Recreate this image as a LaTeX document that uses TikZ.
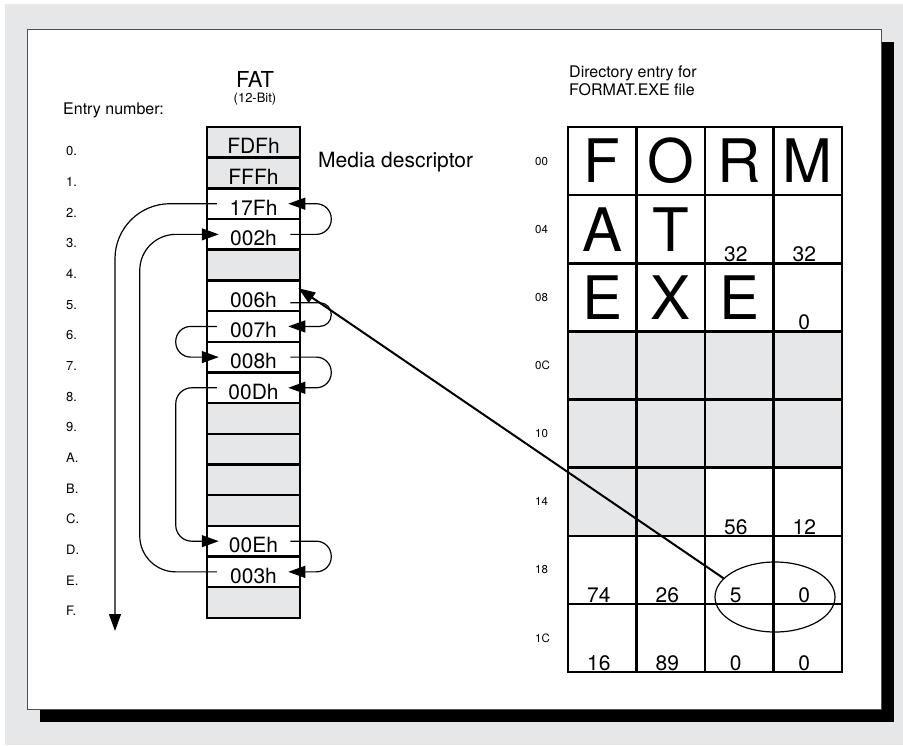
\documentclass[tikz,border=0pt]{standalone}
\usepackage{fontspec}
\setmainfont{TeX Gyre Heros}
\usetikzlibrary{arrows.meta,shapes.geometric}
\definecolor{fondo}{RGB}{230,231,232}
\definecolor{marco}{RGB}{80,80,80}
\newcommand{\fsz}[1]{\fontsize{#1}{#1}\selectfont}

\begin{document}
\begin{tikzpicture}[x=1pt, y=-1pt,
    celda/.style={draw, line width=2.5pt, minimum width=93pt, minimum height=30.68pt,
        inner sep=0pt, text height=22.6pt, text depth=0pt, font=\fsz{21}},
    gris/.style={celda, fill=fondo},
    casilla/.style={draw, line width=2.5pt, minimum width=68.5pt, minimum height=68.125pt, inner sep=0pt},
    letra/.style={inner sep=0pt, font=\fsz{60}},
    numero/.style={anchor=base, inner sep=0pt, font=\fsz{21}},
    rotulo/.style={anchor=base west, inner sep=0pt, font=\fsz{13}},
    flecha/.style={-{Triangle[length=17pt,width=12pt]}, line width=1.2pt}]
    \useasboundingbox (0,0) rectangle (903,745);

    % Fondo, sombra y hoja
    \fill[fondo] (5,4) rectangle (903,745);
    \fill[black] (40,42) rectangle (894,722);
    \draw[marco, fill=white, line width=1pt] (27,29) rectangle (881,709);

    % Titulos de la FAT
    \node[anchor=base, font=\fsz{22}] (fat) at (255,87) {FAT};
    \node[anchor=base, font=\fsz{13}] (bits) at (255,102) {(12-Bit)};
    \node[rotulo, font=\fsz{16}] (entrada) at (63,114.5) {Entry number:};
    \foreach \t [count=\i from 0] in {0,1,2,3,4,5,6,7,8,9,A,B,C,D,E,F}
        \node[rotulo] (e\i) at (66,{155.7+30.68*\i}) {\t.};

    % Columna de la FAT
    \node[gris] (f0) at (253.5,142.34) {FDFh};
    \node[gris] (f1) at (253.5,173.02) {FFFh};
    \node[celda] (f2) at (253.5,203.70) {17Fh};
    \node[celda] (f3) at (253.5,234.38) {002h};
    \node[gris] (f4) at (253.5,265.06) {};
    \node[celda] (f5) at (253.5,295.74) {006h};
    \node[celda] (f6) at (253.5,326.42) {007h};
    \node[celda] (f7) at (253.5,357.10) {008h};
    \node[celda] (f8) at (253.5,387.78) {00Dh};
    \node[gris] (f9) at (253.5,418.46) {};
    \node[gris] (f10) at (253.5,449.14) {};
    \node[gris] (f11) at (253.5,479.82) {};
    \node[gris] (f12) at (253.5,510.50) {};
    \node[celda] (f13) at (253.5,541.18) {00Eh};
    \node[celda] (f14) at (253.5,571.86) {003h};
    \node[gris] (f15) at (253.5,602.54) {};
    \node[rotulo, font=\fsz{21}] (media) at (318,167) {Media descriptor};

    % Cadena de clusters
    \draw[flecha, rounded corners=11.5pt] ([xshift=-11pt,yshift=-7pt]f5.east) -- ++(41,0) |- ([xshift=-13pt]f6.east);
    \draw[flecha, rounded corners=15pt] ([xshift=11pt]f6.west) -- ++(-41,0) |- ([xshift=13pt]f7.west);
    \draw[flecha, rounded corners=15pt] ([xshift=-11pt]f7.east) -- ++(41,0) |- ([xshift=-13pt]f8.east);
    \draw[flecha, rounded corners=16pt] ([xshift=11pt]f8.west) -- ++(-41,0) |- ([xshift=13pt]f13.west);
    \draw[flecha, rounded corners=15pt] ([xshift=-11pt]f13.east) -- ++(41,0) |- ([xshift=-13pt]f14.east);
    \draw[flecha, rounded corners=36pt] ([xshift=11pt]f14.west) -- ++(-77,0) |- ([xshift=13pt]f3.west);
    \draw[flecha, rounded corners=15pt] ([xshift=-11pt]f3.east) -- ++(41,0) |- ([xshift=-13pt]f2.east);
    \coordinate (fin) at (115,631);
    \draw[flecha, rounded corners=55pt] ([xshift=11pt]f2.west) -| (fin);

    % Entrada de directorio
    \node[anchor=north west, align=left, inner sep=0pt, font=\fontsize{16}{18}\selectfont] (titulo) at (569,65.3)
        {Directory entry for\\FORMAT.EXE file};
    \fill[fondo] (568,331.4) rectangle (842,467.6);
    \fill[fondo] (568,467.6) rectangle (705,535.75);
    \foreach \r in {0,...,7}
        \foreach \c in {0,...,3}
            \node[casilla] (d\r\c) at ({602.25+68.5*\c},{161.06+68.125*\r}) {};
    \foreach \t [count=\i from 0] in {00,04,08,0C,10,14,18,1C}
        \node[anchor=west, inner sep=0pt, font=\fsz{11.5}] (r\i) at (535,{161.06+68.125*\i}) {\t};
    \foreach \t [count=\i from 0] in {F,O,R,M}
        \node[letra] (a\i) at (d0\i) {\t};
    \foreach \t [count=\i from 0] in {A,T}
        \node[letra] (b\i) at (d1\i) {\t};
    \foreach \t [count=\i from 0] in {E,X,E}
        \node[letra] (c\i) at (d2\i) {\t};
    \foreach \r/\c/\t in {1/2/32, 1/3/32, 2/3/0, 5/2/56, 5/3/12, 6/0/74, 6/1/26, 6/2/5, 6/3/0,
                          7/0/16, 7/1/89, 7/2/0, 7/3/0}
        \node[numero] (n\r\c) at ([xshift=-3.5pt,yshift=3pt]d\r\c.south) {\t};

    % Cluster inicial
    \node[draw, ellipse, line width=1.2pt, minimum width=120pt, minimum height=70pt, inner sep=0pt] (ovalo) at (775,597) {};
    \draw[flecha, line width=2pt] (ovalo.160) -- ([xshift=-3pt,yshift=-9pt]f5.north east);
\end{tikzpicture}
\end{document}
